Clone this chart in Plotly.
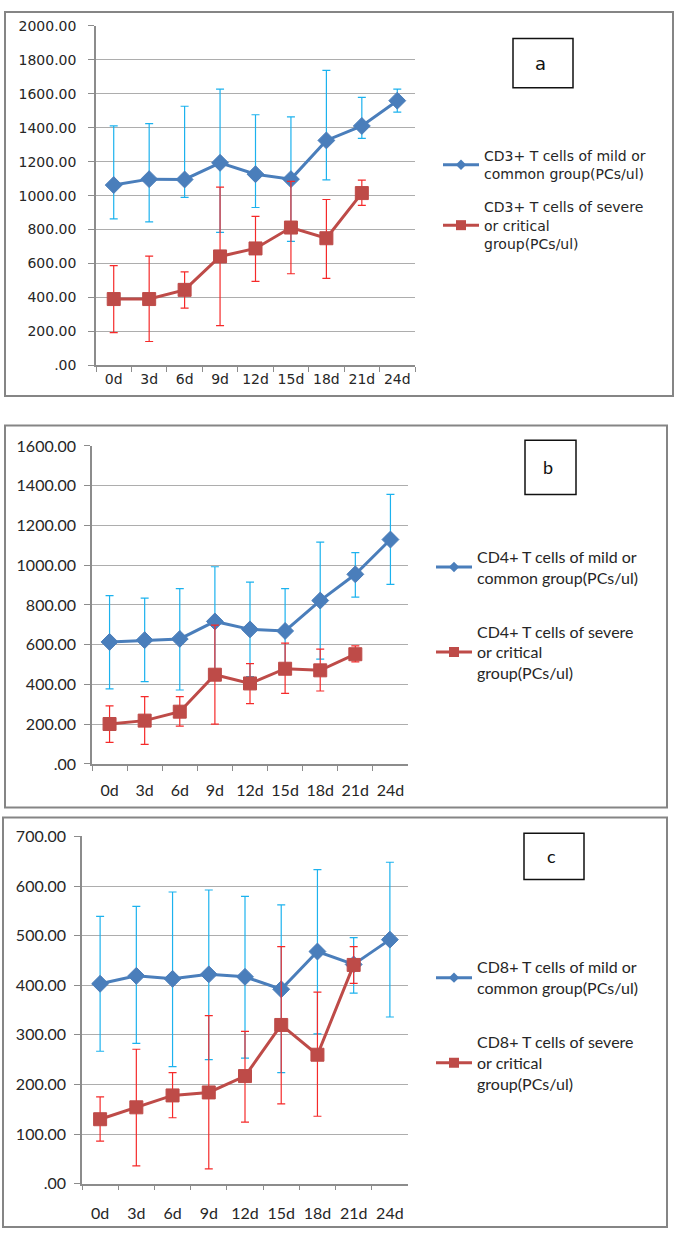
import plotly.graph_objects as go

W, H = 677, 1239


def px(x):
    return x / W


def py(y):
    return 1 - y / H


# ---------------- data ----------------
categories = ["0d", "3d", "6d", "9d", "12d", "15d", "18d", "21d", "24d"]

cd3_mild_mean = [1062, 1097, 1095, 1193, 1126, 1097, 1325, 1410, 1559]
cd3_mild_upper = [1410, 1424, 1526, 1627, 1476, 1464, 1737, 1578, 1627]
cd3_mild_lower = [863, 845, 990, 783, 930, 730, 1093, 1337, 1491]
cd3_severe_mean = [391, 391, 445, 642, 689, 812, 749, 1015]
cd3_severe_upper = [588, 644, 551, 1050, 878, 1084, 977, 1091]
cd3_severe_lower = [193, 141, 338, 234, 495, 540, 513, 942]

cd4_mild_mean = [614, 623, 629, 717, 677, 669, 822, 954, 1129]
cd4_mild_upper = [847, 834, 882, 992, 915, 882, 1116, 1063, 1356]
cd4_mild_lower = [378, 414, 372, 442, 439, 456, 527, 839, 903]
cd4_severe_mean = [201, 218, 263, 449, 405, 479, 471, 552]
cd4_severe_upper = [292, 339, 339, 698, 505, 608, 578, 594]
cd4_severe_lower = [109, 99, 190, 200, 304, 355, 367, 514]

cd8_mild_mean = [403, 419, 413, 422, 417, 392, 468, 442, 492]
cd8_mild_upper = [539, 559, 588, 592, 579, 562, 633, 496, 648]
cd8_mild_lower = [267, 283, 236, 250, 253, 224, 302, 384, 336]
cd8_severe_mean = [130, 154, 178, 184, 217, 320, 260, 441]
cd8_severe_upper = [175, 271, 224, 339, 307, 478, 386, 478]
cd8_severe_lower = [86, 36, 133, 30, 124, 161, 136, 404]

cd3_mild_name = "CD3+ T cells of mild or<br>common group(PCs/ul)"
cd3_severe_name = "CD3+ T cells of severe<br>or critical<br>group(PCs/ul)"
cd4_mild_name = "CD4+ T cells of mild or<br>common group(PCs/ul)"
cd4_severe_name = "CD4+ T cells of severe<br>or critical<br>group(PCs/ul)"
cd8_mild_name = "CD8+ T cells of mild or<br>common group(PCs/ul)"
cd8_severe_name = "CD8+ T cells of severe<br>or critical<br>group(PCs/ul)"

panel_labels = ["a", "b", "c"]
y_max = [2000, 1600, 700]
y_step = [200, 200, 100]

# ---------------- styles ----------------
BLUE = "#4A7EBB"
RED = "#BE4B48"
LBLUE = "#1CB2EE"
LRED = "#F52A2A"
GRID = "#ADADAD"
AXIS = "#8C8C8C"
BORDER = "#858585"
TXT = "#262626"

panels = [
    dict(mild=(cd3_mild_mean, cd3_mild_upper, cd3_mild_lower, cd3_mild_name),
         sev=(cd3_severe_mean, cd3_severe_upper, cd3_severe_lower, cd3_severe_name),
         plot=(96, 415, 16, 361), font="DejaVu Sans", tfs=14, lfs=14,
         box=(5, 2, 673, 392), lab=(513, 29, 573, 79), legxy=(438, 132),
         xax="x", yax="y", leg="legend", standoff=9, xstandoff=0, gap=12),
    dict(mild=(cd4_mild_mean, cd4_mild_upper, cd4_mild_lower, cd4_mild_name),
         sev=(cd4_severe_mean, cd4_severe_upper, cd4_severe_lower, cd4_severe_name),
         plot=(92, 408, 442.7, 765.7), font="Lato", tfs=16, lfs=16,
         box=(5, 422, 667, 810), lab=(525, 437, 576, 492), legxy=(431, 538),
         xax="x2", yax="y2", leg="legend2", standoff=5, xstandoff=11, gap=30),
    dict(mild=(cd8_mild_mean, cd8_mild_upper, cd8_mild_lower, cd8_mild_name),
         sev=(cd8_severe_mean, cd8_severe_upper, cd8_severe_lower, cd8_severe_name),
         plot=(82, 408, 839.3, 1192), font="Lato", tfs=16, lfs=16,
         box=(3, 820, 667, 1236), lab=(524, 836, 584, 883), legxy=(431, 955),
         xax="x3", yax="y3", leg="legend3", standoff=5, xstandoff=14, gap=30),
]


def tick_text(v):
    s = f"{v:.2f}"
    return s[1:] if s.startswith("0") else s


fig = go.Figure()
layout = dict(width=W, height=H, margin=dict(l=0, r=0, t=0, b=0),
              paper_bgcolor="white", plot_bgcolor="white", showlegend=True)
shapes = []
annotations = []

for i, p in enumerate(panels):
    for key, color, ecolor, sym, msize, lsize in (("mild", BLUE, LBLUE, "diamond", 13, 8),
                                                 ("sev", RED, LRED, "square", 13, 10)):
        mean, upper, lower, name = p[key]
        fig.add_trace(go.Scatter(
            x=categories[:len(mean)], y=mean, name=name,
            mode="lines+markers", showlegend=False,
            line=dict(color=color, width=3),
            marker=dict(symbol=sym, size=msize, color=color,
                        line=dict(color=color, width=1)),
            error_y=dict(type="data", symmetric=False,
                         array=[u - m for u, m in zip(upper, mean)],
                         arrayminus=[m - l for m, l in zip(mean, lower)],
                         color=ecolor, thickness=1.2, width=4),
            xaxis=p["xax"], yaxis=p["yax"],
            legendgroup=f"{p['leg']}_{key}",
        ))
        # legend entry (smaller symbol, as in the original legend)
        fig.add_trace(go.Scatter(
            x=[None], y=[None], name=name, mode="lines+markers",
            line=dict(color=color, width=3),
            marker=dict(symbol=sym, size=lsize, color=color),
            xaxis=p["xax"], yaxis=p["yax"], legend=p["leg"],
            legendgroup=f"{p['leg']}_{key}", showlegend=True,
        ))

    x0, x1, y0, y1 = p["plot"]
    xname = "xaxis" if p["xax"] == "x" else "xaxis" + p["xax"][1:]
    yname = "yaxis" if p["yax"] == "y" else "yaxis" + p["yax"][1:]
    tv = list(range(0, y_max[i] + 1, y_step[i]))
    layout[xname] = dict(
        domain=[px(x0), px(x1)], anchor=p["yax"], type="category",
        categoryorder="array", categoryarray=categories,
        range=[-0.5, len(categories) - 0.5], tickson="boundaries",
        ticks="outside", ticklen=5, tickcolor=AXIS, tickwidth=1.2,
        tickangle=0, ticklabelstandoff=p["xstandoff"],
        showline=True, linecolor=AXIS, linewidth=1.5, showgrid=False,
        zeroline=False, tickfont=dict(family=p["font"], size=p["tfs"], color=TXT),
        fixedrange=True,
    )
    layout[yname] = dict(
        domain=[py(y1), py(y0)], anchor=p["xax"], range=[0, y_max[i]],
        tickmode="array", tickvals=tv, ticktext=[tick_text(v) for v in tv],
        ticks="outside", ticklen=6, tickcolor=AXIS, tickwidth=1.2,
        showline=True, linecolor=AXIS, linewidth=1.5,
        showgrid=True, gridcolor=GRID, gridwidth=1.3, zeroline=False,
        ticklabelstandoff=p["standoff"],
        tickfont=dict(family=p["font"], size=p["tfs"], color=TXT),
        fixedrange=True,
    )
    lx, ly = p["legxy"]
    layout[p["leg"]] = dict(
        x=px(lx), y=py(ly), xanchor="left", yanchor="top",
        font=dict(family=p["font"], size=p["lfs"], color=TXT),
        bgcolor="rgba(0,0,0,0)", itemwidth=36, tracegroupgap=p["gap"],
        itemsizing="trace",
    )
    bx0, by0, bx1, by1 = p["box"]
    shapes.append(dict(type="rect", xref="paper", yref="paper",
                       x0=px(bx0), x1=px(bx1), y0=py(by1), y1=py(by0),
                       line=dict(color=BORDER, width=2), layer="below"))
    lx0, ly0, lx1, ly1 = p["lab"]
    shapes.append(dict(type="rect", xref="paper", yref="paper",
                       x0=px(lx0), x1=px(lx1), y0=py(ly1), y1=py(ly0),
                       line=dict(color="#111111", width=1.5)))
    annotations.append(dict(
        text=panel_labels[i], xref="paper", yref="paper",
        x=px(lx0 + (lx1 - lx0) * 0.45), y=py((ly0 + ly1) / 2),
        xanchor="center", yanchor="middle", showarrow=False,
        font=dict(family=p["font"], size=18, color="#111111"),
    ))

layout["shapes"] = shapes
layout["annotations"] = annotations
fig.update_layout(**layout)

fig.write_html("out.html", config={"displayModeBar": False},
               post_script="document.body.style.margin='0';")
